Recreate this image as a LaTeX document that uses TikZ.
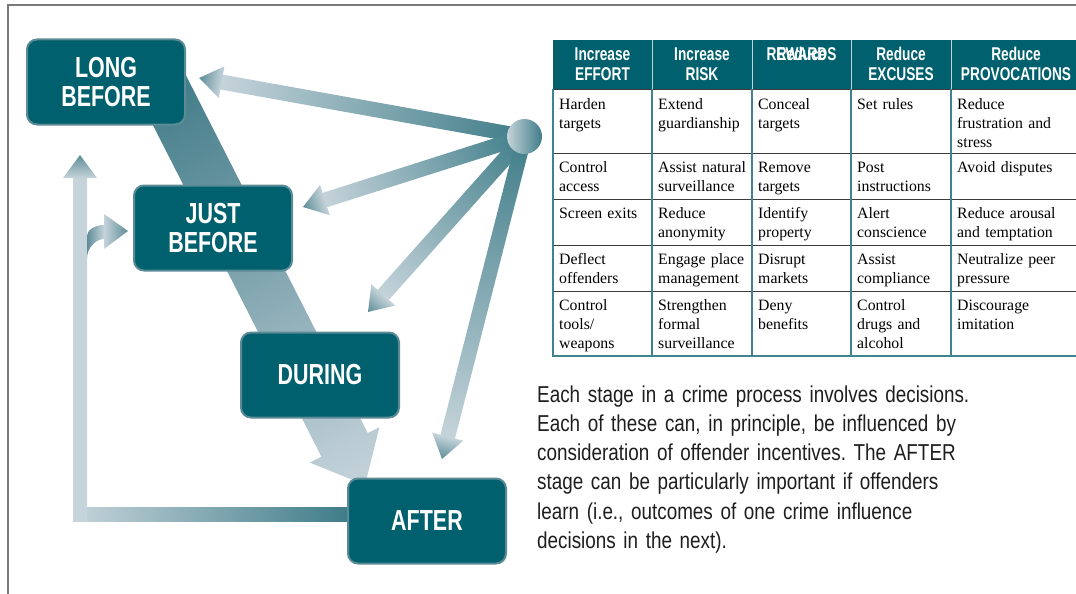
\documentclass[tikz,border=0pt]{standalone}
\usepackage{fontspec}
\setmainfont{Liberation Serif}
\newfontfamily\stagefont{Liberation Sans}[FakeStretch=0.74]
\newfontfamily\notefont{Liberation Sans}[FakeStretch=0.82]
\usetikzlibrary{calc,backgrounds}
\frenchspacing

\definecolor{boxteal}{HTML}{00606D}
\definecolor{boxedge}{HTML}{5A8B97}
\definecolor{arrowlight}{HTML}{C5D3DA}
\definecolor{arrowdark}{HTML}{3F7D89}
\definecolor{headtip}{HTML}{5E8D98}
\definecolor{bigdark}{HTML}{3A7784}
\definecolor{biglight}{HTML}{BACBD3}
\definecolor{ruleteal}{HTML}{3F8390}
\definecolor{rulegray}{HTML}{3C3C3C}
\definecolor{framegray}{HTML}{7A7A7A}
\definecolor{notegray}{HTML}{1E1E1E}

\newcommand\shadearrow[8]{%
  \path let \p1=(#1), \p2=(#2) in
    \pgfextra{\pgfmathsetmacro\arrang{atan2((\y2)-(\y1),(\x2)-(\x1))}%
      \pgfmathsetmacro\arrlen{veclen((\x2)-(\x1),(\y2)-(\y1))}%
      \xdef\arrang{\arrang}\xdef\arrlen{\arrlen}};
  \begin{scope}[transform canvas={shift={(#1)},rotate=\arrang}]
    \shade[left color=#6,right color=#7]
      (0pt,-#3pt) rectangle ({\arrlen pt-#5pt+0.5pt},#3pt);
    \shade[left color=#7,right color=#8]
      ({\arrlen pt-#5pt},-#4pt) -- (\arrlen pt,0pt) -- ({\arrlen pt-#5pt},#4pt) -- cycle;
  \end{scope}}

\begin{document}
\begin{tikzpicture}[x=1pt,y=-1pt,
    stage/.style={draw=boxedge,line width=2pt,fill=boxteal,rounded corners=10pt,
      minimum width=158pt,minimum height=85pt,align=center,text=white,
      font=\stagefont\bfseries\fontsize{29pt}{29pt}\selectfont},
    hub/.style={circle,minimum size=35pt,inner sep=0pt,left color=arrowlight,right color=arrowdark},
    head/.style={anchor=base,inner sep=0pt,text width=130pt,align=center,text=white,
      font=\stagefont\bfseries\fontsize{18.5pt}{20pt}\selectfont},
    cell/.style={anchor=base west,inner xsep=6pt,inner ysep=0pt,text width=120pt,align=left,
      font=\fontsize{15.8pt}{19pt}\selectfont},
    note/.style={anchor=base west,inner sep=0pt,text width=480pt,align=left,text=notegray,
      font=\notefont\fontsize{23pt}{29.3pt}\selectfont}]
    \useasboundingbox (0,0) rectangle (1076,594);
    \draw[framegray,line width=1.2pt] (8,594) |- (1076,5);

    \node[stage] (long) at (106,82) {LONG\\BEFORE};
    \node[stage] (just) at (213,228) {JUST\\BEFORE};
    \node[stage] (during) at (320,375) {DURING};
    \node[stage] (after) at (427,521) {AFTER};
    \node[hub] (hub) at (524.5,136.5) {};

    \coordinate (tolong) at (199,78);
    \coordinate (tojust) at (303,207);
    \coordinate (toduring) at (368,312);
    \coordinate (toafter) at (442,459);
    \coordinate (bigtail) at (150,62);
    \coordinate (bigtip) at (365,485);
    \coordinate (fbcorner) at (80,521);
    \coordinate (fbtip) at (80,155);
    \coordinate (fbbranch) at (87,248);
    \coordinate (jbtip) at (128,231);

    \begin{pgfonlayer}{background}
      \shadearrow{bigtail}{bigtip}{26}{39}{45}{bigdark}{biglight}{arrowlight}
      \shade[left color=arrowlight,right color=arrowdark]
        ([xshift=-7pt]fbcorner) rectangle ([yshift=14pt]fbcorner -| after.west);
      \shadearrow{fbcorner}{fbtip}{7}{17}{23}{arrowlight}{arrowlight}{headtip}
      \shade[left color=headtip,right color=arrowlight]
        ($(fbbranch)+(0,10)$) .. controls +(0,-10) and +(-8,0) .. ($(jbtip)+(-24,8)$)
        -- ($(jbtip)+(-24,-6)$) .. controls +(-9,0) and +(0,-6) .. ($(fbbranch)+(0,-12)$) -- cycle;
      \shade[left color=arrowlight,right color=headtip]
        ($(jbtip)+(-24,-17)$) -- (jbtip) -- ($(jbtip)+(-24,18)$) -- cycle;
      \foreach \target in {tolong,tojust,toduring,toafter}
        {\shadearrow{hub}{\target}{7.5}{16}{23}{arrowdark}{arrowlight}{headtip}}
    \end{pgfonlayer}

    \fill[boxteal] (553,40) rectangle (1076,89);
    \foreach \cx in {652,752,851,951}
      \draw[white!75!boxteal,line width=.8pt] (\cx,40) -- (\cx,89);
    \foreach \ry in {89,153,199,245,291}
      \draw[rulegray,line width=.8pt] (553,\ry) -- (1076,\ry);
    \foreach \cx in {553,652,752,851,951}
      \draw[ruleteal,line width=1.2pt] (\cx,89) -- (\cx,356);
    \draw[ruleteal,line width=1.6pt] (552.4,356) -- (1076,356);

    \foreach \cx/\txt [count=\c] in {602.5/{Increase\\EFFORT},702/{Increase\\RISK},901/{Reduce\\EXCUSES},1016/{Reduce\\PROVOCATIONS}}
      \node[head] (head\c) at (\cx,60.5) {\txt};
    \node[head] (rewards) at (801.5,60.5) {REWARDS};
    \node[head] (reduce) at (801.5,60.5) {Reduce};

    \foreach \cx/\txt [count=\c] in {553/{Harden\\targets},652/{Extend\\guardianship},752/{Conceal\\targets},851/{Set rules},951/{Reduce\\frustration and\\stress}}
      \node[cell] (cellA\c) at (\cx,109) {\txt};
    \foreach \cx/\txt [count=\c] in {553/{Control\\access},652/{Assist natural\\surveillance},752/{Remove\\targets},851/{Post\\instructions},951/{Avoid disputes}}
      \node[cell] (cellB\c) at (\cx,172) {\txt};
    \foreach \cx/\txt [count=\c] in {553/{Screen exits},652/{Reduce\\anonymity},752/{Identify\\property},851/{Alert\\conscience},951/{Reduce arousal\\and temptation}}
      \node[cell] (cellC\c) at (\cx,218) {\txt};
    \foreach \cx/\txt [count=\c] in {553/{Deflect\\offenders},652/{Engage place\\management},752/{Disrupt\\markets},851/{Assist\\compliance},951/{Neutralize peer\\pressure}}
      \node[cell] (cellD\c) at (\cx,264) {\txt};
    \foreach \cx/\txt [count=\c] in {553/{Control\\tools/\\weapons},652/{Strengthen\\formal\\surveillance},752/{Deny\\benefits},851/{Control\\drugs and\\alcohol},951/{Discourage\\imitation}}
      \node[cell] (cellE\c) at (\cx,310) {\txt};

    \node[note] (note) at (537,402) {Each stage in a crime process involves decisions.\\
      Each of these can, in principle, be influenced by\\
      consideration of offender incentives. The AFTER\\
      stage can be particularly important if offenders\\
      learn (i.e., outcomes of one crime influence\\
      decisions in the next).};
\end{tikzpicture}
\end{document}
